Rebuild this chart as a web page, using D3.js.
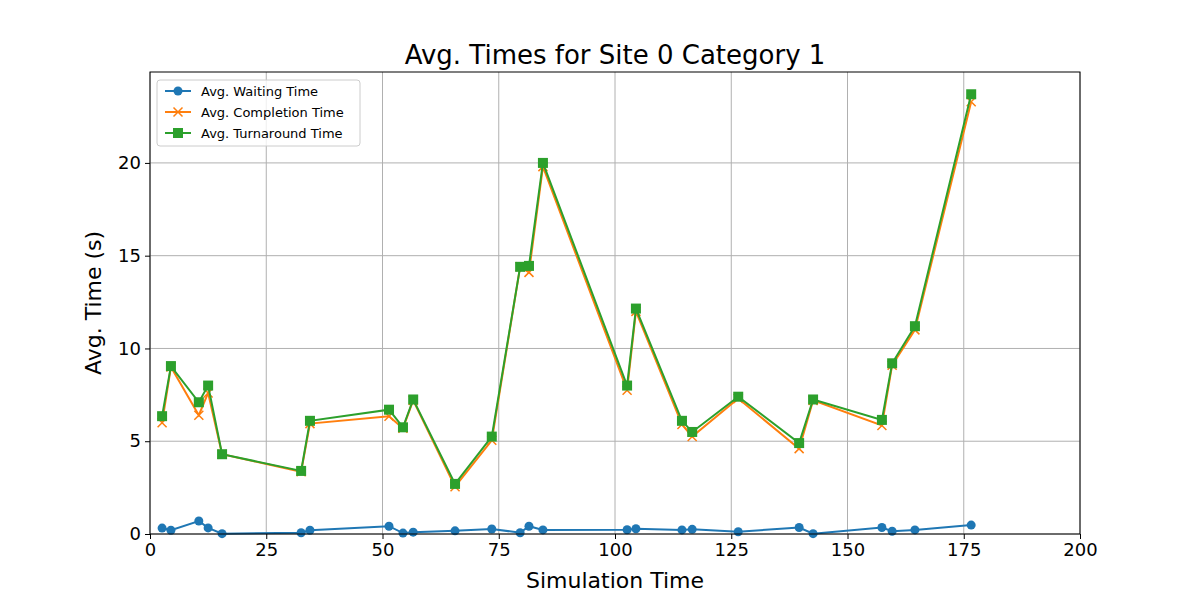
<!DOCTYPE html>
<html><head><meta charset="utf-8">
<script src="https://cdn.jsdelivr.net/npm/d3@7"></script>
<style>body{margin:0;background:#fff;font-family:"DejaVu Sans",sans-serif}</style>
</head><body><svg id="chart" width="1200" height="600"></svg>
<script>
const simTime = [2.6,4.5,10.5,12.5,15.5,32.5,34.4,51.4,54.4,56.6,65.6,73.5,79.6,81.5,84.5,102.6,104.5,114.4,116.6,126.5,139.6,142.6,157.4,159.6,164.5,176.6];
const waiting = [0.32,0.2,0.7,0.33,0.02,0.07,0.2,0.42,0.05,0.1,0.17,0.27,0.07,0.42,0.22,0.23,0.28,0.22,0.25,0.12,0.35,0.02,0.35,0.15,0.22,0.48];
const completion = [6.0,9.0,6.4,7.6,4.3,3.35,5.95,6.35,5.7,7.2,2.55,5.05,14.4,14.1,19.8,7.75,12.0,5.9,5.25,7.3,4.6,7.2,5.85,9.1,11.0,23.3];
const turnaround = [6.35,9.05,7.1,8.0,4.3,3.4,6.1,6.7,5.75,7.25,2.7,5.25,14.4,14.45,20.0,8.0,12.15,6.1,5.5,7.4,4.9,7.25,6.15,9.2,11.2,23.7];
const xTicks = [0,25,50,75,100,125,150,175,200];
const yTicks = [0,5,10,15,20];

const svg = d3.select("#chart");
const L = 150, R = 1080, T = 72, B = 534;
const x = d3.scaleLinear().domain([0,200]).range([L,R]);
const y = d3.scaleLinear().domain([0,24.9]).range([B,T]);

// grid
svg.append("g").selectAll("line").data(xTicks).enter().append("line")
  .attr("x1", d => x(d)).attr("x2", d => x(d)).attr("y1", T).attr("y2", B)
  .attr("stroke", "#b0b0b0").attr("stroke-width", 1);
svg.append("g").selectAll("line").data(yTicks).enter().append("line")
  .attr("x1", L).attr("x2", R).attr("y1", d => y(d)).attr("y2", d => y(d))
  .attr("stroke", "#b0b0b0").attr("stroke-width", 1);

let series = [
  {name: "Avg. Waiting Time", vals: waiting, color: "#1f77b4", marker: "circle"},
  {name: "Avg. Completion Time", vals: completion, color: "#ff7f0e", marker: "x"},
  {name: "Avg. Turnaround Time", vals: turnaround, color: "#2ca02c", marker: "square"}
];

let drawMarker = (g, m, cx, cy, color) => {
  if (m == "circle") g.append("circle").attr("cx", cx).attr("cy", cy).attr("r", 4.5).attr("fill", color);
  else if (m == "square") g.append("rect").attr("x", cx-5).attr("y", cy-5).attr("width", 10).attr("height", 10).attr("fill", color);
  else g.append("path").attr("d", `M${cx-4.5},${cy-4.5}L${cx+4.5},${cy+4.5}M${cx-4.5},${cy+4.5}L${cx+4.5},${cy-4.5}`)
    .attr("stroke", color).attr("stroke-width", 1.5);
};

series.forEach(s => {
  let g = svg.append("g");
  g.append("path").datum(s.vals)
    .attr("d", d3.line().x((d,i) => x(simTime[i])).y(d => y(d)))
    .attr("fill", "none").attr("stroke", s.color).attr("stroke-width", 2);
  s.vals.forEach((v,i) => drawMarker(g, s.marker, x(simTime[i]), y(v), s.color));
});

// axes
const xAxis = svg.append("g").attr("transform", `translate(0,${B})`).call(d3.axisBottom(x).tickValues(xTicks).tickSize(5).tickPadding(4));
const yAxis = svg.append("g").attr("transform", `translate(${L},0)`).call(d3.axisLeft(y).tickValues(yTicks).tickSize(5).tickPadding(4));
[xAxis, yAxis].forEach(a => {
  a.selectAll("text").attr("font-size", 18).attr("font-family", "DejaVu Sans").attr("fill", "#000");
  a.select(".domain").remove();
});
svg.append("rect").attr("x", L).attr("y", T).attr("width", R-L).attr("height", B-T)
  .attr("fill", "none").attr("stroke", "#000").attr("stroke-width", 1);

svg.append("text").attr("x", (L+R)/2).attr("y", 64).attr("text-anchor", "middle")
  .attr("font-size", 26).text("Avg. Times for Site 0 Category 1");
svg.append("text").attr("x", (L+R)/2).attr("y", 588).attr("text-anchor", "middle")
  .attr("font-size", 22).text("Simulation Time");
svg.append("text").attr("transform", `translate(101,${(T+B)/2}) rotate(-90)`).attr("text-anchor", "middle")
  .attr("font-size", 22).text("Avg. Time (s)");

// legend
const lg = svg.append("g").attr("transform", "translate(157,80)");
lg.append("rect").attr("width", 203).attr("height", 66).attr("rx", 3)
  .attr("fill", "#fff").attr("fill-opacity", 0.8).attr("stroke", "#ccc");
series.forEach((s,i) => {
  let yy = 11 + i*21;
  lg.append("line").attr("x1", 8).attr("x2", 34).attr("y1", yy).attr("y2", yy).attr("stroke", s.color).attr("stroke-width", 2);
  drawMarker(lg, s.marker, 21, yy, s.color);
  lg.append("text").attr("x", 44).attr("y", yy+4.5).attr("font-size", 13).text(s.name);
});
</script></body></html>
